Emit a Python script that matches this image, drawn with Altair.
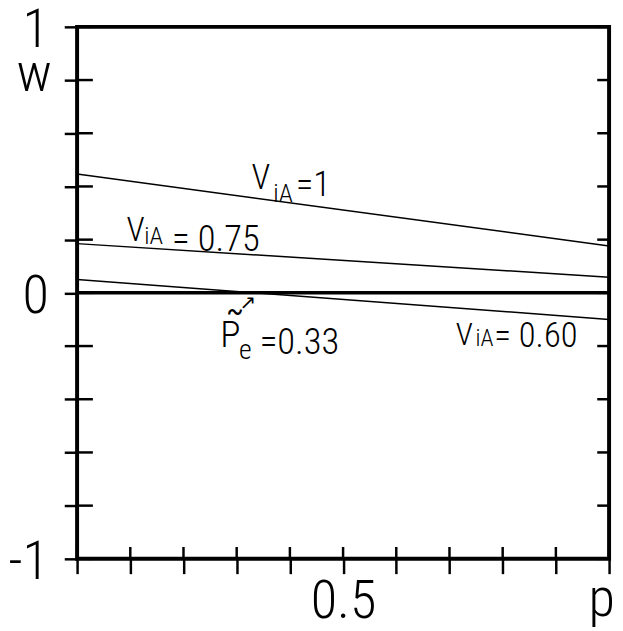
import altair as alt
import pandas as pd

# ---- data ----
p_vals = [0.0, 1.0]
w_v100 = [0.447, 0.176]
w_v075 = [0.185, 0.059]
w_v060 = [0.05, -0.10]
w_zero = [0.0, 0.0]
series_names = ["V_iA=1", "V_iA=0.75", "V_iA=0.60"]

x_ticks = [0.0, 0.1, 0.2, 0.3, 0.4, 0.5, 0.6, 0.7, 0.8, 0.9, 1.0]
y_ticks = [-1.0, -0.8, -0.6, -0.4, -0.2, 0.0, 0.2, 0.4, 0.6, 0.8, 1.0]
x_tick_labels = {0.5: "0.5"}
y_tick_labels = {1.0: "1", 0.0: "0", -1.0: "-1"}

label_main = ["V", "V", "V", "P"]
label_sub = ["iA", "iA", "iA", "e"]
label_rest = ["=1", "= 0.75", "= 0.60", "=0.33"]
label_x = [0.328, 0.093, 0.712, 0.269]
label_y = [0.391, 0.195, -0.195, -0.202]

FONT = "Roboto Condensed, Roboto, sans-serif"
FW = 300
W, H = 539, 539

rows = []
for name, vals in zip(series_names, [w_v100, w_v075, w_v060]):
    for p, w in zip(p_vals, vals):
        rows.append({"p": p, "w": w, "s": name})
lines_df = pd.DataFrame(rows)
zero_df = pd.DataFrame({"p": p_vals, "w": w_zero})
xt_df = pd.DataFrame({"p": x_ticks})
yt_df = pd.DataFrame({"w": y_ticks})

xscale = alt.Scale(domain=[0, 1], nice=False, zero=False)
yscale = alt.Scale(domain=[-1, 1], nice=False, zero=False)


def expr(d):
    e = "''"
    for k, v in d.items():
        e = f"datum.value == {k} ? '{v}' : ({e})"
    return e


x_axis = alt.Axis(values=x_ticks, labelExpr=expr(x_tick_labels), tickSize=15, tickWidth=2.5,
                  tickColor="black", domain=False, grid=False, labelFont=FONT, labelFontSize=55,
                  labelFontWeight=FW, labelColor="black", labelPadding=1, labelOverlap=False,
                  labelFlush=False, labelBound=False, title="p", titleFont=FONT,
                  titleFontSize=55, titleFontWeight=FW, titleColor="black", titleX=531,
                  titleY=57, titleAlign="center", titleBaseline="alphabetic")
y_axis = alt.Axis(values=y_ticks, labelExpr=expr(y_tick_labels), tickSize=13, tickWidth=2.5,
                  tickColor="black", domain=False, grid=False, labelFont=FONT, labelFontSize=55,
                  labelFontWeight=FW, labelColor="black", labelPadding=16, labelOverlap=False,
                  labelFlush=False, labelBound=False, labelOffset=3, title="w", titleFont=FONT,
                  titleFontSize=55, titleFontWeight=FW, titleColor="black", titleAngle=0,
                  titleX=-44, titleY=64, titleAlign="center", titleBaseline="alphabetic")


def X():
    return alt.X("p:Q", scale=xscale, axis=x_axis)


def Y():
    return alt.Y("w:Q", scale=yscale, axis=y_axis)


lines = alt.Chart(lines_df).mark_line(color="black", strokeWidth=1.5).encode(
    x=X(), y=Y(), detail="s:N")
zero = alt.Chart(zero_df).mark_line(color="black", strokeWidth=3.5).encode(x=X(), y=Y())

left_in = alt.Chart(yt_df).mark_rule(color="black", strokeWidth=2.5).encode(
    y=Y(), x=alt.value(0), x2=alt.value(16))
right_in = alt.Chart(yt_df).mark_rule(color="black", strokeWidth=2.5).encode(
    y=Y(), x=alt.value(W - 12), x2=alt.value(W))
bottom_in = alt.Chart(xt_df).mark_rule(color="black", strokeWidth=2.5).encode(
    x=X(), y=alt.value(H - 12), y2=alt.value(H))

styles = [
    dict(main=35, sub=26, rest=36, sub_dx=22, sub_dy=13, rest_dx=45, rest_dy=7),
    dict(main=34, sub=25, rest=37, sub_dx=18, sub_dy=3, rest_dx=46, rest_dy=10),
    dict(main=32, sub=24, rest=35, sub_dx=20, sub_dy=1, rest_dx=39, rest_dy=2),
    dict(main=38, sub=28, rest=37, sub_dx=19, sub_dy=13, rest_dx=40, rest_dy=8),
]

texts = []
for i in range(len(label_main)):
    st = styles[i]
    for txt, fs, dx, dy in [
        (label_main[i], st["main"], 0, 0),
        (label_sub[i], st["sub"], st["sub_dx"], st["sub_dy"]),
        (label_rest[i], st["rest"], st["rest_dx"], st["rest_dy"]),
    ]:
        df = pd.DataFrame({"p": [label_x[i]], "w": [label_y[i]], "t": [txt]})
        texts.append(alt.Chart(df).mark_text(
            font=FONT, fontWeight=FW, fontSize=fs, align="left", baseline="alphabetic",
            dx=dx, dy=dy, color="black").encode(x=X(), y=Y(), text="t:N"))

# tilde over P and the small arrow pointing at the crossing
pe_df = pd.DataFrame({"p": [label_x[3]], "w": [label_y[3]], "t": ["~"]})
texts.append(alt.Chart(pe_df).mark_text(
    font=FONT, fontSize=30, align="center", baseline="middle", dx=15, dy=-35,
    color="black").encode(x=X(), y=Y(), text="t:N"))
arr_df = pd.DataFrame({"p": [label_x[3]], "w": [label_y[3]], "t": ["\u2197"]})
texts.append(alt.Chart(arr_df).mark_text(
    font="DejaVu Sans", fontSize=20, align="center", baseline="middle", dx=28, dy=-44,
    color="black").encode(x=X(), y=Y(), text="t:N"))

chart = alt.layer(lines, zero, left_in, right_in, bottom_in, *texts).properties(
    width=W, height=H,
    background="white",
    autosize=alt.AutoSizeParams(type="none"),
    padding={"left": 70, "top": 15, "right": 6, "bottom": 68},
).configure_view(stroke="black", strokeWidth=4)

chart.save("out.html", embed_options={"renderer": "svg", "actions": False})
